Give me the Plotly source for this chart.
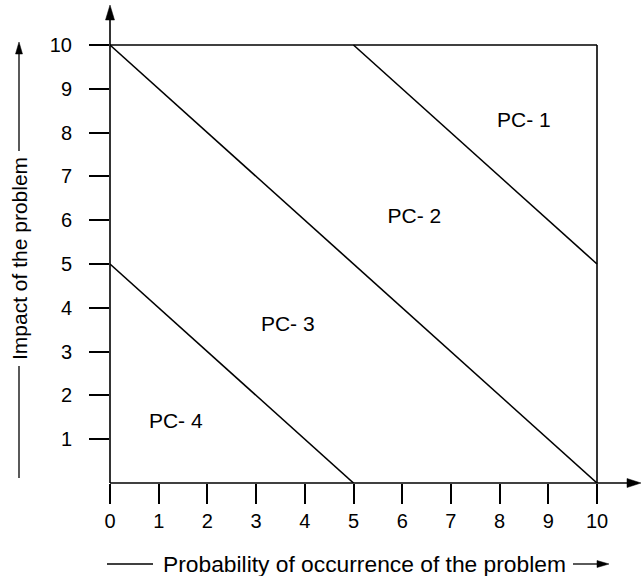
import plotly.graph_objects as go

# ---- data ----
x_ticks = [0, 1, 2, 3, 4, 5, 6, 7, 8, 9, 10]
y_ticks = [1, 2, 3, 4, 5, 6, 7, 8, 9, 10]

# boundary lines of the priority classes (x, y pairs)
line_pc1_pc2 = {"x": [5, 10], "y": [10, 5]}
line_pc2_pc3 = {"x": [0, 10], "y": [10, 0]}
line_pc3_pc4 = {"x": [0, 5], "y": [5, 0]}
box_top = {"x": [0, 10], "y": [10, 10]}
box_right = {"x": [10, 10], "y": [0, 10]}

region_labels = ["PC- 1", "PC- 2", "PC- 3", "PC- 4"]
region_x = [8.5, 6.25, 3.65, 1.35]
region_y = [8.25, 6.05, 3.6, 1.37]

x_title = "Probability of occurrence of the problem"
y_title = "Impact of the problem"

# ---- layout geometry (pixels) ----
W, H = 642, 576
L, R, T, B = 110, 1, 6, 93
PW = W - L - R
PH = H - T - B
XPX = 48.7  # pixels per x unit
YPX = 43.8  # pixels per y unit
x_max = PW / XPX
y_max = PH / YPX


def px(p):
    return (p - L) / PW


def py(p):
    return (H - B - p) / PH


FONT = "Liberation Sans, Arial, sans-serif"
LW = 1.6
fig = go.Figure()

for seg in [box_top, box_right, line_pc2_pc3, line_pc1_pc2, line_pc3_pc4]:
    fig.add_trace(go.Scatter(x=seg["x"], y=seg["y"], mode="lines",
                             line=dict(color="black", width=LW),
                             hoverinfo="skip", showlegend=False, cliponaxis=False))

fig.add_trace(go.Scatter(x=region_x, y=region_y, mode="text", text=region_labels,
                         textfont=dict(family=FONT, size=21, color="black"),
                         showlegend=False, hoverinfo="skip"))

shapes = []
# axis lines with arrowheads
shapes.append(dict(type="line", xref="paper", yref="paper", x0=px(110), y0=py(483),
                   x1=px(630), y1=py(483), line=dict(color="black", width=LW)))
shapes.append(dict(type="line", xref="paper", yref="paper", x0=px(110), y0=py(483),
                   x1=px(110), y1=py(16), line=dict(color="black", width=LW)))


def tri(tip, base1, base2):
    return (f"M {px(tip[0])},{py(tip[1])} L {px(base1[0])},{py(base1[1])} "
            f"L {px(base2[0])},{py(base2[1])} Z")


shapes.append(dict(type="path", xref="paper", yref="paper",
                   path=tri((641, 483), (627, 478.5), (627, 487.5)),
                   fillcolor="black", line=dict(color="black", width=0.5)))
shapes.append(dict(type="path", xref="paper", yref="paper",
                   path=tri((110, 5), (105.5, 20), (114.5, 20)),
                   fillcolor="black", line=dict(color="black", width=0.5)))

# x title lines
shapes.append(dict(type="line", xref="paper", yref="paper", x0=px(107), y0=py(564),
                   x1=px(153), y1=py(564), line=dict(color="black", width=1.3)))
shapes.append(dict(type="line", xref="paper", yref="paper", x0=px(573), y0=py(564),
                   x1=px(600), y1=py(564), line=dict(color="black", width=1.3)))
shapes.append(dict(type="path", xref="paper", yref="paper",
                   path=tri((609, 564), (597, 560.5), (597, 567.5)),
                   fillcolor="black", line=dict(color="black", width=0.5)))
# y title lines
shapes.append(dict(type="line", xref="paper", yref="paper", x0=px(19), y0=py(52),
                   x1=px(19), y1=py(151), line=dict(color="black", width=1.3)))
shapes.append(dict(type="path", xref="paper", yref="paper",
                   path=tri((19, 42), (15.5, 54), (22.5, 54)),
                   fillcolor="black", line=dict(color="black", width=0.5)))
shapes.append(dict(type="line", xref="paper", yref="paper", x0=px(19), y0=py(366),
                   x1=px(19), y1=py(478), line=dict(color="black", width=1.3)))

annotations = [
    dict(text=x_title, xref="paper", yref="paper", x=px(364), y=py(564),
         showarrow=False, xanchor="center", yanchor="middle",
         font=dict(family=FONT, size=22.8, color="black")),
    dict(text=y_title, xref="paper", yref="paper", x=px(19), y=py(259),
         showarrow=False, xanchor="center", yanchor="middle", textangle=-90,
         font=dict(family=FONT, size=21, color="black")),
]

fig.update_layout(
    width=W, height=H,
    margin=dict(l=L, r=R, t=T, b=B, autoexpand=False),
    plot_bgcolor="white", paper_bgcolor="white",
    shapes=shapes, annotations=annotations,
    xaxis=dict(range=[0, x_max], tickvals=x_ticks, ticktext=[str(v) for v in x_ticks],
               ticks="outside", ticklen=20, tickwidth=LW, tickcolor="black",
               showgrid=False, zeroline=False, showline=False,
               tickfont=dict(family=FONT, size=20, color="black"),
               ticklabelstandoff=0, fixedrange=True),
    yaxis=dict(range=[0, y_max], tickvals=y_ticks, ticktext=[str(v) for v in y_ticks],
               ticks="outside", ticklen=20, tickwidth=LW, tickcolor="black",
               showgrid=False, zeroline=False, showline=False,
               tickfont=dict(family=FONT, size=20, color="black"),
               ticklabelstandoff=13, fixedrange=True),
)

fig.write_html("out.html", config={"displayModeBar": False},
               post_script="document.body.style.margin='0';document.body.style.overflow='hidden';")
